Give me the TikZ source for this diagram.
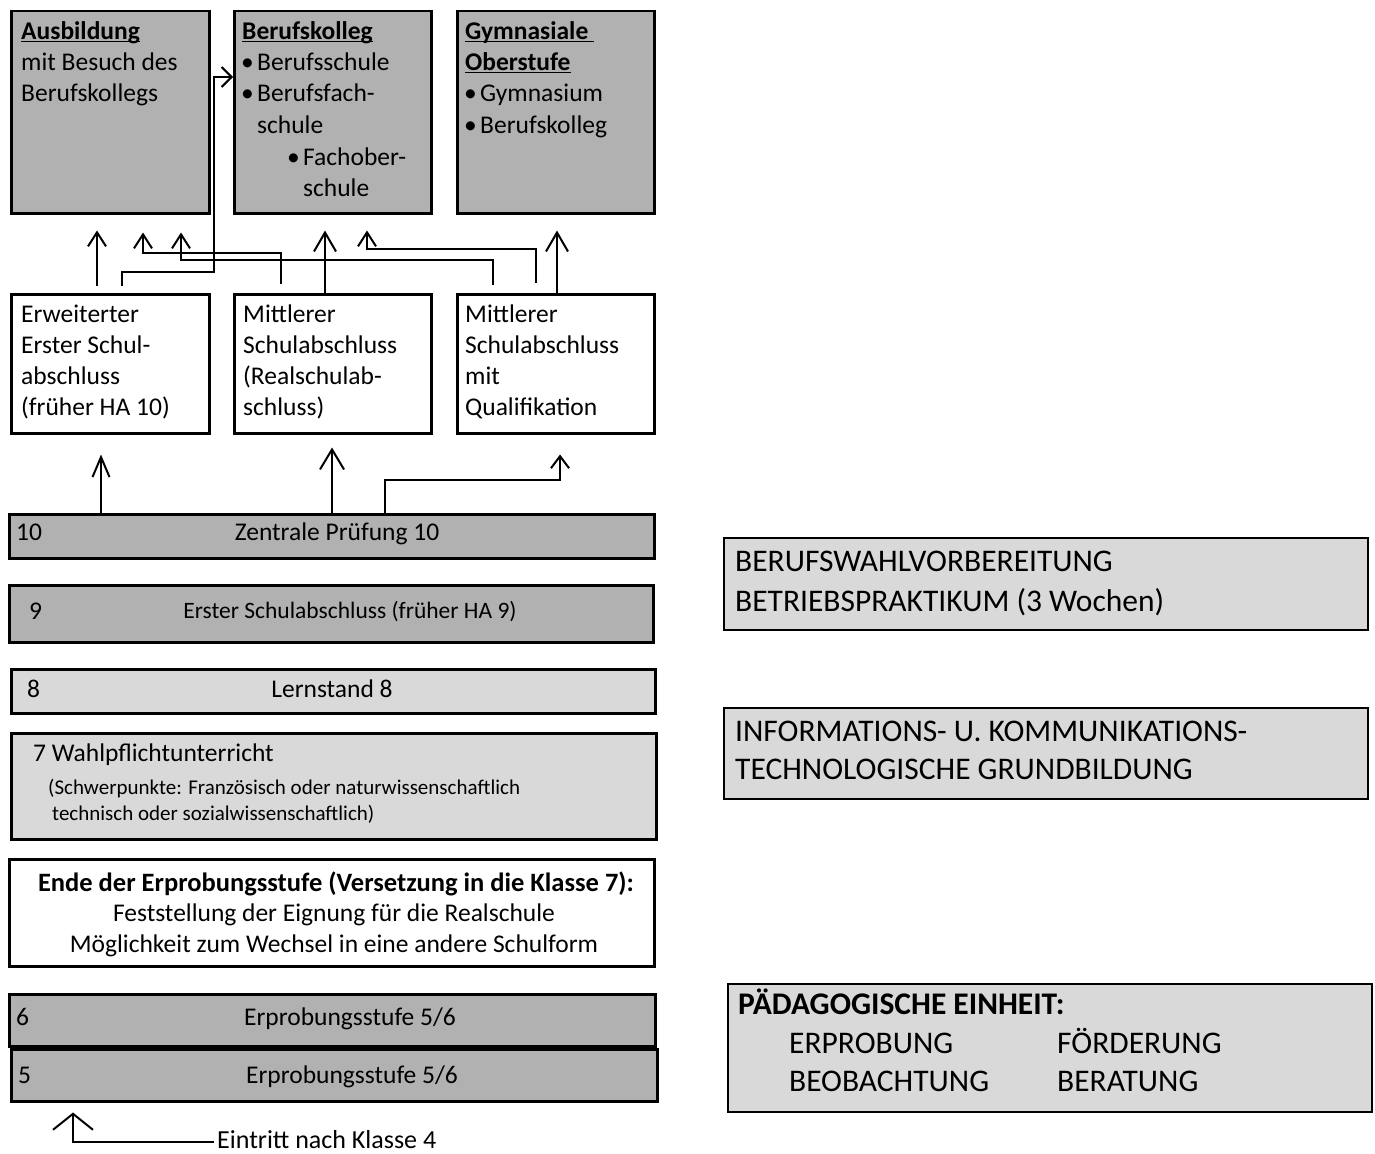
\documentclass[tikz,border=0pt]{standalone}
\usepackage{fontspec}
\setmainfont{Carlito}
\usetikzlibrary{arrows.meta}
\definecolor{dg}{HTML}{B1B1B1}
\definecolor{lg}{HTML}{D9D9D9}
\newcommand\ulx[1]{\setbox0\hbox{#1}\rlap{\rule[-2.5pt]{\wd0}{1.3pt}}\box0}
\newcommand\bul[1]{\makebox[#1][l]{•}}
\begin{document}
\begin{tikzpicture}[x=1pt,y=-1pt,
 box/.style={draw=black, line width=2.5pt, anchor=north west, inner sep=0pt},
 dbox/.style={box, fill=dg},
 lbox/.style={box, fill=lg},
 wbox/.style={box, fill=white},
 tx/.style={anchor=base west, inner sep=0pt, font=\fontsize{25.5}{31}\selectfont},
 txc/.style={tx, anchor=base},
 sm/.style={anchor=base west, inner sep=0pt, font=\fontsize{21}{26}\selectfont},
 big/.style={anchor=base west, inner sep=0pt, font=\fontsize{31.5}{40}\selectfont},
 arr/.style={line width=2pt, -{Straight Barb[length=14pt,width=18pt]}},
 arrb/.style={line width=2pt, -{Straight Barb[length=19pt,width=22pt]}}
]
\useasboundingbox (0,0) rectangle (1375,1153);

% top boxes
\node[dbox, minimum width=198pt, minimum height=202pt] (aus) at (10,10) {};
\node[dbox, minimum width=197pt, minimum height=202pt] (bk) at (233,10) {};
\node[dbox, minimum width=197pt, minimum height=202pt] (gym) at (456,10) {};
% middle boxes
\node[wbox, minimum width=198pt, minimum height=139pt] (erw) at (10,293) {};
\node[wbox, minimum width=197pt, minimum height=139pt] (msa) at (233,293) {};
\node[wbox, minimum width=197pt, minimum height=139pt] (msaq) at (456,293) {};
% bars
\node[dbox, minimum width=645pt, minimum height=44pt] (b10) at (8,513) {};
\node[dbox, minimum width=644pt, minimum height=57pt] (b9) at (8,584) {};
\node[lbox, minimum width=644pt, minimum height=44pt] (b8) at (10,668) {};
\node[lbox, minimum width=645pt, minimum height=106pt] (b7) at (10,732) {};
\node[wbox, minimum width=645pt, minimum height=107pt] (ende) at (8,858) {};
\node[dbox, minimum width=646pt, minimum height=52pt] (b6) at (8,993) {};
\node[dbox, minimum width=646pt, minimum height=52pt] (b5) at (10,1048) {};
% right boxes
\node[lbox, line width=2pt, minimum width=644pt, minimum height=92pt] (bw) at (723,537) {};
\node[lbox, line width=2pt, minimum width=644pt, minimum height=91pt] (ikg) at (723,707) {};
\node[lbox, line width=2pt, minimum width=644pt, minimum height=128pt] (pae) at (727,983) {};

% texts top
\node[tx] (a1) at (21,40) {\ulx{\textbf{Ausbildung}}};
\node[tx] (a2) at (21,71) {mit Besuch des};
\node[tx] (a3) at (21,102) {Berufskollegs};
\node[tx] (k1) at (242,40) {\ulx{\textbf{Berufskolleg}}};
\node[tx] (k2) at (241,71) {\bul{16pt}Berufsschule};
\node[tx] (k3) at (241,102) {\bul{16pt}Berufsfach-};
\node[tx] (k4) at (257,133) {schule};
\node[tx] (k5) at (287,165) {\bul{16pt}Fachober-};
\node[tx] (k6) at (303,196) {schule};
\node[tx] (g1) at (465,40) {\ulx{\textbf{Gymnasiale }}};
\node[tx] (g2) at (465,71) {\ulx{\textbf{Oberstufe}}};
\node[tx] (g3) at (464,102) {\bul{16pt}Gymnasium};
\node[tx] (g4) at (464,133) {\bul{16pt}Berufskolleg};
% texts middle
\node[tx] (e1) at (21,322) {Erweiterter};
\node[tx] (e2) at (21,353) {Erster Schul-};
\node[tx] (e3) at (21,384) {abschluss};
\node[tx] (e4) at (21,415) {(früher HA 10)};
\node[tx] (m1) at (243,322) {Mittlerer};
\node[tx] (m2) at (243,353) {Schulabschluss};
\node[tx] (m3) at (243,384) {(Realschulab-};
\node[tx] (m4) at (243,415) {schluss)};
\node[tx] (q1) at (465,322) {Mittlerer};
\node[tx] (q2) at (465,353) {Schulabschluss};
\node[tx] (q3) at (465,384) {mit};
\node[tx] (q4) at (465,415) {Qualifikation};
% bars text
\node[tx] (n10) at (16,540) {10};
\node[txc] (z10) at (337,540) {Zentrale Prüfung 10};
\node[tx] (n9) at (29,619) {9};
\node[anchor=base, inner sep=0pt, font=\fontsize{23.5}{28}\selectfont] (z9) at (350,618) {Erster Schulabschluss (früher HA 9)};
\node[tx] (n8) at (27,697) {8};
\node[txc] (z8) at (332,697) {Lernstand 8};
\node[tx] (z7) at (33,761) {7 Wahlpflichtunterricht};
\node[sm] (s1) at (48,794) {(Schwerpunkte: Französisch oder naturwissenschaftlich};
\node[sm] (s2) at (52,820) {technisch oder sozialwissenschaftlich)};
\node[txc, font=\fontsize{26.5}{31}\selectfont] (en1) at (336,891) {\textbf{Ende der Erprobungsstufe (Versetzung in die Klasse 7):}};
\node[txc] (en2) at (334,921) {Feststellung der Eignung für die Realschule};
\node[txc] (en3) at (334,952) {Möglichkeit zum Wechsel in eine andere Schulform};
\node[tx] (n6) at (16,1025) {6};
\node[txc] (z6) at (350,1025) {Erprobungsstufe 5/6};
\node[tx] (n5) at (18,1083) {5};
\node[txc] (z5) at (352,1083) {Erprobungsstufe 5/6};
\node[tx, font=\fontsize{26}{31}\selectfont] (ein) at (217,1148) {Eintritt nach Klasse 4};
% right texts
\node[big] (r1) at (735,571) {BERUFSWAHLVORBEREITUNG};
\node[big] (r2) at (735,611) {BETRIEBSPRAKTIKUM (3 Wochen)};
\node[big] (r3) at (735,741) {INFORMATIONS- U. KOMMUNIKATIONS-};
\node[big] (r4) at (735,779) {TECHNOLOGISCHE GRUNDBILDUNG};
\node[big] (p1) at (738,1014) {\textbf{PÄDAGOGISCHE EINHEIT:}};
\node[big] (p2) at (789,1053) {ERPROBUNG};
\node[big] (p3) at (1057,1053) {FÖRDERUNG};
\node[big] (p4) at (789,1091) {BEOBACHTUNG};
\node[big] (p5) at (1057,1091) {BERATUNG};

% connectors top
\draw[arr] ([xshift=87pt,yshift=7pt]erw.north west) -- ([xshift=87pt,yshift=-16pt]aus.south west);
\draw[line width=2pt, -{Straight Barb[length=10pt,width=20pt]}] ([xshift=112pt,yshift=7pt]erw.north west) -- ++(0,-14) -- ++(92,0) |- ([yshift=-67pt]bk.north west);
\draw[arr] ([xshift=48pt,yshift=9pt]msa.north west) -- ++(0,-31) -| ([xshift=133pt,yshift=-18pt]aus.south west);
\draw[arr] ([xshift=37pt,yshift=8pt]msaq.north west) -- ++(0,-25) -| ([xshift=171pt,yshift=-18pt]aus.south west);
\draw[arrb] ([xshift=92pt]msa.north west) -- ([xshift=92pt,yshift=-16pt]bk.south west);
\draw[arr] ([xshift=80pt,yshift=10pt]msaq.north west) -- ++(0,-34) -| ([xshift=134pt,yshift=-16pt]bk.south west);
\draw[arrb] ([xshift=101pt]msaq.north west) -- ([xshift=101pt,yshift=-16pt]gym.south west);
% connectors from bar 10
\draw[line width=2pt, -{Straight Barb[length=20pt,width=17pt]}] ([xshift=93pt]b10.north west) -- ([xshift=91pt,yshift=-20pt]erw.south west);
\draw[line width=2pt, -{Straight Barb[length=20pt,width=24pt]}] ([xshift=324pt]b10.north west) -- ([xshift=99pt,yshift=-13pt]msa.south west);
\draw[line width=2pt, -{Straight Barb[length=12pt,width=18pt]}] ([xshift=377pt]b10.north west) -- ++(0,-33) -| ([xshift=104pt,yshift=-20pt]msaq.south west);
% entry arrow
\draw[line width=2pt, -{Straight Barb[length=16pt,width=40pt]}] ([xshift=-3pt,yshift=-3pt]ein.west) -| ([xshift=63pt,yshift=-10pt]b5.south west);
\end{tikzpicture}
\end{document}
